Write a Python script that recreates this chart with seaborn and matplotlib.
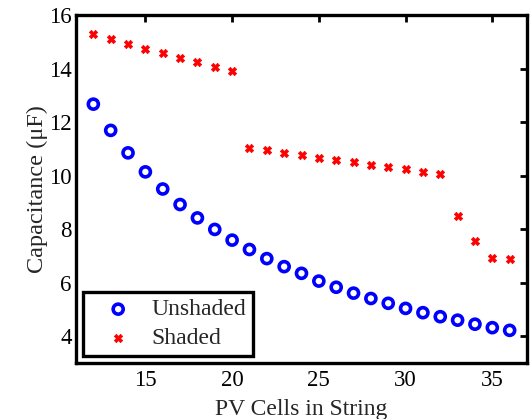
import matplotlib
matplotlib.use("Agg")
import matplotlib.pyplot as plt
import seaborn as sns
import pandas as pd

cells = list(range(12, 37))
unshaded = [12.67, 11.69, 10.85, 10.14, 9.50, 8.92, 8.42, 7.99, 7.59, 7.24, 6.90, 6.60, 6.35,
            6.06, 5.83, 5.61, 5.41, 5.23, 5.04, 4.88, 4.73, 4.60, 4.45, 4.32, 4.22]
shaded = [15.28, 15.09, 14.91, 14.73, 14.57, 14.40, 14.24, 14.07, 13.91, 11.05, 10.94, 10.86, 10.77,
          10.67, 10.58, 10.50, 10.41, 10.32, 10.23, 10.15, 10.07, 8.51, 7.57, 6.93, 6.88]
xticks = [15, 20, 25, 30, 35]
yticks = [4, 6, 8, 10, 12, 14, 16]

sns.set_style("white")
plt.rcParams['font.family'] = ['Liberation Serif', 'DejaVu Serif']
plt.rcParams['mathtext.fontset'] = 'stix'

df_u = pd.DataFrame({"x": cells, "y": unshaded})
df_s = pd.DataFrame({"x": cells, "y": shaded})

fig = plt.figure(figsize=(5.32, 4.19), dpi=100)
ax = fig.add_axes([76/532, 1 - 363/419, (527-76)/532, (363-15)/419])

sns.scatterplot(data=df_u, x="x", y="y", ax=ax, marker="o", s=52,
                facecolor="none", edgecolor="#0000ff", linewidth=2.6, label="Unshaded")
sns.scatterplot(data=df_s, x="x", y="y", ax=ax, marker="X", s=36,
                color="#ff0000", edgecolor="#ff0000", linewidth=0.5, label="Shaded")

ax.set_xlim(11, 37)
ax.set_ylim(3, 16)
ax.set_xticks(xticks)
ax.set_yticks(yticks)
ax.tick_params(direction="in", length=5, width=2, labelsize=16.5, top=True, right=True,
               colors="black", pad=3)
ax.tick_params(axis="x", pad=5)
for sp in ax.spines.values():
    sp.set_linewidth(2.4)
    sp.set_color("black")
ax.set_xlabel("PV Cells in String", fontsize=17, labelpad=6)
ax.set_ylabel("Capacitance (μF)", fontsize=17.5, labelpad=1)

leg = ax.legend(loc="lower left", fontsize=17, frameon=True, fancybox=False,
                borderpad=0.3, handletextpad=0.2, labelspacing=0.3, handlelength=2.4,
                bbox_to_anchor=(0.015, 0.02), borderaxespad=0.0)
leg.get_frame().set_edgecolor("black")
leg.get_frame().set_linewidth(2.4)
leg.get_frame().set_alpha(1)

fig.savefig("out.png", dpi=100)
